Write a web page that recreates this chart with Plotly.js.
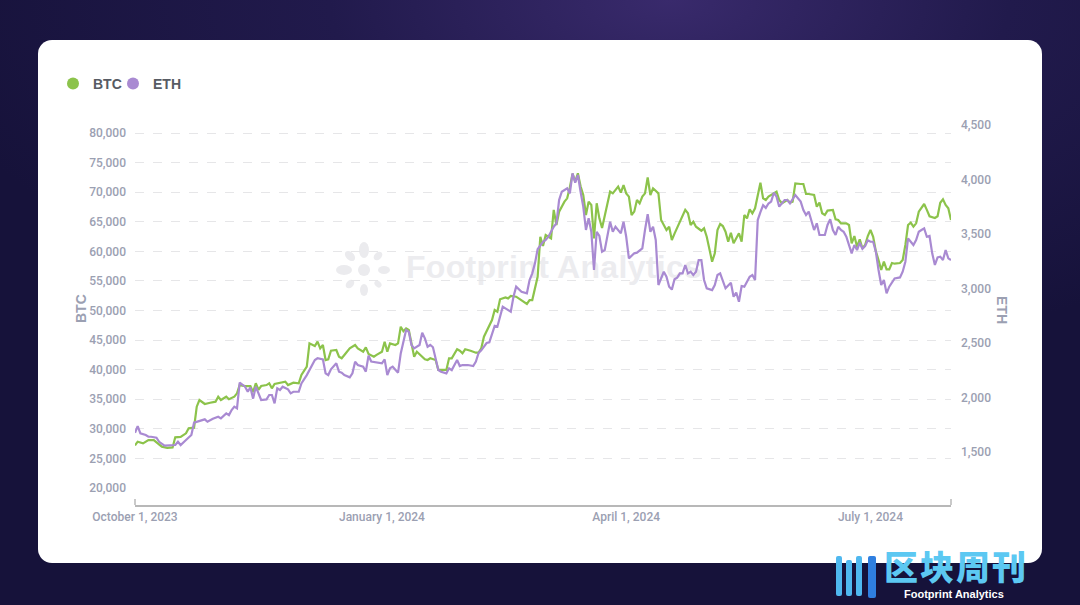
<!DOCTYPE html>
<html>
<head>
<meta charset="utf-8">
<script src="https://cdn.plot.ly/plotly-3.0.1.min.js"></script>
<style>
html,body{margin:0;padding:0;width:1080px;height:605px;overflow:hidden;}
body{background:radial-gradient(ellipse 70% 60% at 62% 0%, #392a6c 0%, #211a4c 45%, #16123a 100%);position:relative;font-family:"Liberation Sans",Arial,sans-serif;}
#card{position:absolute;left:38px;top:40px;width:1004px;height:523px;background:#ffffff;border-radius:14px;}
#wm{position:absolute;left:332px;top:238px;width:440px;height:64px;}
#wmtext{position:absolute;left:74px;top:10px;font-family:"Liberation Sans",Arial,sans-serif;font-weight:bold;font-size:32px;color:#ececef;letter-spacing:0.3px;white-space:nowrap;line-height:1.2;}
#chart{position:absolute;left:0;top:0;width:1080px;height:605px;}
#brand{position:absolute;left:832px;top:548px;width:248px;height:57px;}
#brandcn{position:absolute;left:52px;top:1px;font-family:"Noto Sans CJK SC",sans-serif;font-weight:900;font-size:34px;line-height:1;color:#5cc8f2;letter-spacing:2px;white-space:nowrap;}
#brandfp{position:absolute;left:72px;top:41px;font-family:"Liberation Sans",Arial,sans-serif;font-weight:bold;font-size:11px;line-height:1;color:#ffffff;white-space:nowrap;}
</style>
</head>
<body>
<div id="card"></div>
<div id="wm">
  <svg width="64" height="64" viewBox="0 0 64 64" style="position:absolute;left:0;top:0">
    <g fill="#ebebee">
      <circle cx="32" cy="32" r="6"/>
      <ellipse cx="32" cy="12" rx="5" ry="8"/>
      <ellipse cx="32" cy="52" rx="4" ry="6"/>
      <ellipse cx="12" cy="32" rx="8" ry="5"/>
      <ellipse cx="52" cy="32" rx="6" ry="4"/>
      <ellipse cx="18" cy="18" rx="6" ry="4" transform="rotate(45 18 18)"/>
      <ellipse cx="46" cy="18" rx="5" ry="3.5" transform="rotate(-45 46 18)"/>
      <ellipse cx="18" cy="46" rx="5" ry="3.5" transform="rotate(-45 18 46)"/>
      <ellipse cx="46" cy="46" rx="4" ry="3" transform="rotate(45 46 46)"/>
    </g>
  </svg>
  <div id="wmtext">Footprint Analytics</div>
</div>
<div id="chart"></div>
<div id="brand">
  <svg width="50" height="50" viewBox="0 0 50 50" style="position:absolute;left:0;top:4px">
    <g fill="#4fb8ef">
      <rect x="4" y="4" width="6" height="40" rx="2"/>
      <rect x="14" y="8" width="6" height="36" rx="2"/>
      <rect x="24" y="4" width="6" height="40" rx="2"/>
      <rect x="36" y="4" width="8" height="42" rx="2" fill="#2f7fe0"/>
    </g>
  </svg>
  <div id="brandcn">区块周刊</div>
  <div id="brandfp">Footprint Analytics</div>
</div>
<script>
const btcDates = ["2023-10-01","2023-10-02","2023-10-04","2023-10-06","2023-10-08","2023-10-10","2023-10-11","2023-10-13","2023-10-15","2023-10-16","2023-10-18","2023-10-20","2023-10-21","2023-10-23","2023-10-24","2023-10-25","2023-10-27","2023-10-29","2023-10-31",
"2023-11-01","2023-11-02","2023-11-04","2023-11-05","2023-11-07","2023-11-08","2023-11-09","2023-11-11","2023-11-13","2023-11-14","2023-11-15","2023-11-16","2023-11-17","2023-11-19","2023-11-20","2023-11-21","2023-11-22","2023-11-24","2023-11-26","2023-11-27","2023-11-29",
"2023-12-01","2023-12-02","2023-12-04","2023-12-05","2023-12-07","2023-12-08","2023-12-09","2023-12-10","2023-12-11","2023-12-12","2023-12-13","2023-12-15","2023-12-16","2023-12-17","2023-12-18","2023-12-20","2023-12-22","2023-12-23","2023-12-25","2023-12-26","2023-12-27","2023-12-29","2023-12-30",
"2024-01-01","2024-01-02","2024-01-03","2024-01-04","2024-01-06","2024-01-07","2024-01-08","2024-01-09","2024-01-10","2024-01-11","2024-01-12","2024-01-13","2024-01-14","2024-01-16","2024-01-17","2024-01-18","2024-01-19","2024-01-21","2024-01-22","2024-01-23","2024-01-25","2024-01-26","2024-01-27","2024-01-29","2024-01-30","2024-01-31",
"2024-02-01","2024-02-03","2024-02-05","2024-02-06","2024-02-07","2024-02-08","2024-02-10","2024-02-11","2024-02-12","2024-02-13","2024-02-14","2024-02-16","2024-02-17","2024-02-18","2024-02-20","2024-02-22","2024-02-24","2024-02-25","2024-02-26","2024-02-28","2024-02-29",
"2024-03-01","2024-03-02","2024-03-04","2024-03-05","2024-03-06","2024-03-07","2024-03-09","2024-03-10","2024-03-11","2024-03-12","2024-03-13","2024-03-14","2024-03-15","2024-03-16","2024-03-17","2024-03-18","2024-03-19","2024-03-20","2024-03-21","2024-03-22","2024-03-23","2024-03-24","2024-03-26","2024-03-27","2024-03-29","2024-03-30","2024-03-31",
"2024-04-01","2024-04-02","2024-04-03","2024-04-04","2024-04-05","2024-04-06","2024-04-07","2024-04-08","2024-04-09","2024-04-10","2024-04-11","2024-04-13","2024-04-14","2024-04-15","2024-04-16","2024-04-17","2024-04-18","2024-04-19","2024-04-20","2024-04-21","2024-04-23","2024-04-24","2024-04-25","2024-04-26","2024-04-27","2024-04-29","2024-04-30",
"2024-05-01","2024-05-02","2024-05-03","2024-05-04","2024-05-05","2024-05-06","2024-05-07","2024-05-08","2024-05-09","2024-05-10","2024-05-11","2024-05-13","2024-05-14","2024-05-15","2024-05-16","2024-05-17","2024-05-18","2024-05-19","2024-05-20","2024-05-21","2024-05-22","2024-05-23","2024-05-24","2024-05-26","2024-05-27","2024-05-28","2024-05-29","2024-05-31",
"2024-06-01","2024-06-02","2024-06-03","2024-06-05","2024-06-06","2024-06-07","2024-06-08","2024-06-10","2024-06-11","2024-06-12","2024-06-13","2024-06-14","2024-06-15","2024-06-17","2024-06-18","2024-06-19","2024-06-20","2024-06-22","2024-06-23","2024-06-24","2024-06-25","2024-06-26","2024-06-27","2024-06-28","2024-06-29","2024-06-30",
"2024-07-01","2024-07-02","2024-07-03","2024-07-04","2024-07-05","2024-07-06","2024-07-07","2024-07-08","2024-07-09","2024-07-10","2024-07-12","2024-07-13","2024-07-14","2024-07-15","2024-07-16","2024-07-17","2024-07-18","2024-07-19","2024-07-20","2024-07-21","2024-07-22","2024-07-23","2024-07-25","2024-07-26","2024-07-27","2024-07-28","2024-07-29","2024-07-30","2024-07-31"];
const btcPrices = [27200,27830,27550,28100,28100,27450,26980,26800,26850,28570,28650,29240,30090,30200,33740,34870,34200,34400,34590,
35430,34870,35430,35000,35430,36000,37400,37230,37230,36200,37700,36600,37240,37400,37700,36850,37580,37800,37970,37400,37800,
37700,39100,40500,44450,44000,44730,43600,44170,41630,41750,43200,43320,42190,41920,42480,43600,44170,43600,43040,43770,42650,42190,42500,
43040,44730,43040,44450,44170,44450,47260,46500,46990,46700,44170,42190,43040,42190,41750,41630,41920,41630,39950,39950,39950,41920,41920,43440,43200,42760,
43440,43200,42870,42870,43600,45580,47550,48390,50080,49800,51890,52220,52050,52450,52330,51770,51100,51770,51770,55710,62470,
60900,62760,62190,67000,64450,66700,68400,68960,70800,73130,71770,73190,71000,69520,66140,68400,67830,62190,68120,65580,63940,66140,70090,69800,70930,69920,71210,
69800,69240,66140,66710,68680,68120,69240,69800,72510,69520,70650,69800,65290,64450,63600,64160,61910,63000,64000,65150,67000,66430,64450,65010,64160,63480,63890,
62470,60220,58250,59660,63600,64620,64280,63320,61630,63150,61350,63040,61630,66140,65580,67110,66430,67280,69800,71600,68960,68680,69240,69800,70090,68680,68120,68680,
68230,68400,71490,71380,71380,69690,69690,69520,67540,68230,66430,66140,66880,67000,65400,65290,64730,64730,64450,61350,62590,60790,62030,60510,61070,62590,
63600,62470,60020,58530,56840,58250,56950,56950,58020,57910,58020,58530,61070,64450,64840,64160,64730,66710,67280,68000,67000,65930,65640,65930,68210,68800,67830,67280,65290];

const ethDates = ["2023-10-01","2023-10-02","2023-10-03","2023-10-05","2023-10-06","2023-10-07","2023-10-09","2023-10-10","2023-10-12","2023-10-14","2023-10-16","2023-10-17","2023-10-18","2023-10-20","2023-10-22","2023-10-23","2023-10-25","2023-10-27","2023-10-28","2023-10-30",
"2023-11-01","2023-11-02","2023-11-04","2023-11-05","2023-11-06","2023-11-07","2023-11-08","2023-11-09","2023-11-11","2023-11-12","2023-11-13","2023-11-14","2023-11-15","2023-11-17","2023-11-19","2023-11-20","2023-11-21","2023-11-22","2023-11-23","2023-11-24","2023-11-25","2023-11-27","2023-11-28","2023-11-29",
"2023-12-01","2023-12-02","2023-12-04","2023-12-05","2023-12-07","2023-12-08","2023-12-10","2023-12-11","2023-12-12","2023-12-13","2023-12-15","2023-12-16","2023-12-17","2023-12-18","2023-12-20","2023-12-21","2023-12-22","2023-12-23","2023-12-25","2023-12-26","2023-12-27","2023-12-28","2023-12-30",
"2024-01-01","2024-01-02","2024-01-03","2024-01-04","2024-01-05","2024-01-07","2024-01-08","2024-01-10","2024-01-11","2024-01-12","2024-01-13","2024-01-15","2024-01-16","2024-01-17","2024-01-18","2024-01-19","2024-01-20","2024-01-22","2024-01-23","2024-01-25","2024-01-26","2024-01-27","2024-01-29","2024-01-30","2024-01-31",
"2024-02-02","2024-02-04","2024-02-05","2024-02-06","2024-02-07","2024-02-09","2024-02-10","2024-02-12","2024-02-13","2024-02-15","2024-02-16","2024-02-18","2024-02-19","2024-02-20","2024-02-22","2024-02-24","2024-02-25","2024-02-26","2024-02-27","2024-02-28",
"2024-03-01","2024-03-02","2024-03-03","2024-03-04","2024-03-05","2024-03-06","2024-03-07","2024-03-08","2024-03-10","2024-03-11","2024-03-12","2024-03-13","2024-03-14","2024-03-15","2024-03-16","2024-03-17","2024-03-18","2024-03-19","2024-03-20","2024-03-21","2024-03-22","2024-03-23","2024-03-24","2024-03-26","2024-03-27","2024-03-28","2024-03-30","2024-03-31",
"2024-04-01","2024-04-02","2024-04-04","2024-04-05","2024-04-07","2024-04-08","2024-04-09","2024-04-10","2024-04-11","2024-04-12","2024-04-13","2024-04-15","2024-04-16","2024-04-17","2024-04-18","2024-04-19","2024-04-20","2024-04-21","2024-04-22","2024-04-23","2024-04-24","2024-04-25","2024-04-26","2024-04-27","2024-04-28","2024-04-29","2024-04-30",
"2024-05-01","2024-05-03","2024-05-04","2024-05-05","2024-05-06","2024-05-07","2024-05-08","2024-05-10","2024-05-11","2024-05-12","2024-05-13","2024-05-14","2024-05-15","2024-05-17","2024-05-18","2024-05-19","2024-05-20","2024-05-21","2024-05-22","2024-05-23","2024-05-24","2024-05-25","2024-05-26","2024-05-27","2024-05-28","2024-05-30","2024-05-31",
"2024-06-01","2024-06-02","2024-06-03","2024-06-05","2024-06-06","2024-06-07","2024-06-08","2024-06-10","2024-06-11","2024-06-12","2024-06-14","2024-06-15","2024-06-16","2024-06-17","2024-06-18","2024-06-19","2024-06-20","2024-06-21","2024-06-22","2024-06-24","2024-06-25","2024-06-26","2024-06-27","2024-06-28","2024-06-29","2024-06-30",
"2024-07-01","2024-07-02","2024-07-03","2024-07-04","2024-07-05","2024-07-06","2024-07-07","2024-07-08","2024-07-09","2024-07-10","2024-07-12","2024-07-13","2024-07-14","2024-07-15","2024-07-16","2024-07-17","2024-07-18","2024-07-19","2024-07-20","2024-07-21","2024-07-22","2024-07-23","2024-07-24","2024-07-25","2024-07-26","2024-07-27","2024-07-28","2024-07-29","2024-07-30","2024-07-31"];
const ethPrices = [1677,1738,1671,1656,1640,1640,1631,1594,1558,1558,1564,1594,1564,1610,1656,1769,1787,1800,1778,1806,
1824,1809,1855,1839,1885,1916,1901,2136,2099,2053,2093,1990,2100,1977,1983,2023,2023,1947,2084,2069,2099,2075,2038,2053,
2053,2130,2206,2252,2344,2360,2350,2222,2206,2259,2314,2237,2228,2206,2185,2222,2329,2298,2283,2237,2385,2330,2320,
2314,2350,2206,2268,2283,2228,2405,2619,2604,2482,2451,2482,2594,2543,2466,2482,2461,2252,2237,2222,2268,2252,2344,2289,2298,
2298,2289,2329,2410,2433,2500,2507,2658,2650,2833,2818,2787,2925,3017,2971,2956,3078,3139,3231,3360,
3429,3445,3475,3521,3567,3598,3812,3888,3919,3873,4057,3971,4041,3888,3751,3537,3644,3521,3170,3521,3482,3338,3353,3613,3521,3567,3506,3613,
3475,3277,3323,3329,3369,3537,3683,3521,3567,3445,3032,3154,3108,3017,2990,3085,3100,3139,3139,3216,3139,3154,3124,3154,3261,3261,3078,
3002,2986,3032,3124,3139,3062,3002,3053,2925,2962,2879,3023,3017,3108,3124,3078,3628,3700,3765,3740,3780,3797,3879,3842,3751,3812,3812,
3782,3818,3858,3797,3720,3674,3705,3537,3598,3491,3491,3583,3635,3537,3491,3567,3537,3521,3475,3323,3399,3353,3420,3365,3390,3442,
3429,3429,3338,3170,3032,3078,2956,3017,3062,3093,3102,3154,3246,3460,3429,3399,3445,3521,3537,3552,3475,3482,3323,3216,3286,3292,3261,3353,3277,3261];

const seriesNames = ["BTC","ETH"];
const seriesColors = ["#8cc34b","#a98ad2"];
const xTickVals = ["2023-10-01","2024-01-01","2024-04-01","2024-07-01"];
const xTickText = ["October 1, 2023","January 1, 2024","April 1, 2024","July 1, 2024"];
const btcTicks = [20000,25000,30000,35000,40000,45000,50000,55000,60000,65000,70000,75000,80000];
const ethTicks = [1500,2000,2500,3000,3500,4000,4500];

const W = 1080, H = 605;
const mL = 135, mR = 129, mT = 120, mB = 100;
const plotW = W - mL - mR;
const plotH = H - mT - mB;
const yDomBottom = 17 / plotH;
const tickColor = "#9ba0b2";
const fontFam = 'Roboto, "Liberation Sans", Arial, sans-serif';
const tickFont = {family: fontFam, size: 12, color: tickColor, weight: 500};
const legendFont = {family: '"Liberation Sans", Arial, sans-serif', size: 14, color: "#575b63", weight: "bold"};

const traces = [
  {x: btcDates, y: btcPrices, type: "scatter", mode: "lines", name: seriesNames[0], yaxis: "y",
   line: {color: seriesColors[0], width: 2.2}, showlegend: false, hoverinfo: "skip"},
  {x: ethDates, y: ethPrices, type: "scatter", mode: "lines", name: seriesNames[1], yaxis: "y2",
   line: {color: seriesColors[1], width: 2.2}, showlegend: false, hoverinfo: "skip"},
  {x: [null], y: [null], type: "scatter", mode: "markers", name: seriesNames[0], legend: "legend",
   marker: {color: seriesColors[0], size: 12}, showlegend: true},
  {x: [null], y: [null], type: "scatter", mode: "markers", name: seriesNames[1], legend: "legend2",
   marker: {color: seriesColors[1], size: 12}, showlegend: true}
];

const legendBase = (cx) => ({
  orientation: "h", x: (cx - 20 - mL) / plotW, xanchor: "left",
  y: (H - mB - 84) / plotH, yanchor: "middle",
  font: legendFont, bgcolor: "rgba(0,0,0,0)", borderwidth: 0, itemclick: false
});

const layout = {
  width: W, height: H,
  margin: {l: mL, r: mR, t: mT, b: mB, pad: 0},
  paper_bgcolor: "rgba(0,0,0,0)",
  plot_bgcolor: "rgba(0,0,0,0)",
  font: {family: fontFam, color: tickColor, size: 12},
  hovermode: false,
  showlegend: true,
  legend: legendBase(73),
  legend2: legendBase(133),
  xaxis: {
    type: "date",
    range: ["2023-10-01", "2024-07-31"],
    tickmode: "array", tickvals: xTickVals, ticktext: xTickText,
    showgrid: false, zeroline: false,
    showline: true, linecolor: "#b8b8b8", linewidth: 1.5,
    anchor: "free", position: 0,
    ticks: "", ticklabelstandoff: 0,
    tickfont: tickFont
  },
  yaxis: {
    domain: [yDomBottom, 1],
    range: [20000, 82197],
    tickmode: "array", tickvals: btcTicks, tickformat: ",d",
    showgrid: true, gridcolor: "#e6e6e8", griddash: "dash", gridwidth: 1,
    zeroline: false, showline: false, ticks: "",
    ticklabelstandoff: 8,
    tickfont: tickFont
  },
  yaxis2: {
    domain: [yDomBottom, 1],
    overlaying: "y", side: "right", anchor: "x",
    range: [1170, 4546],
    tickmode: "array", tickvals: ethTicks, tickformat: ",d",
    showgrid: false, zeroline: false, showline: false, ticks: "",
    ticklabelstandoff: 9,
    tickfont: tickFont
  },
  shapes: [
    {type: "line", xref: "paper", yref: "paper", x0: 0, x1: 0, y0: 0, y1: 6 / plotH,
     line: {color: "#b8b8b8", width: 1.5}},
    {type: "line", xref: "paper", yref: "paper", x0: 1, x1: 1, y0: 0, y1: 6 / plotH,
     line: {color: "#b8b8b8", width: 1.5}}
  ],
  annotations: [
    {text: "BTC", xref: "paper", yref: "paper", x: (81 - mL) / plotW, y: (H - mB - 309) / plotH,
     textangle: -90, showarrow: false, xanchor: "center", yanchor: "middle",
     font: {family: '"Liberation Sans", Arial, sans-serif', size: 14, color: tickColor, weight: "bold"}},
    {text: "ETH", xref: "paper", yref: "paper", x: (1002 - mL) / plotW, y: (H - mB - 310) / plotH,
     textangle: 90, showarrow: false, xanchor: "center", yanchor: "middle",
     font: {family: '"Liberation Sans", Arial, sans-serif', size: 14, color: tickColor, weight: "bold"}}
  ]
};

Plotly.newPlot("chart", traces, layout, {staticPlot: true, displayModeBar: false});
</script>
</body>
</html>
